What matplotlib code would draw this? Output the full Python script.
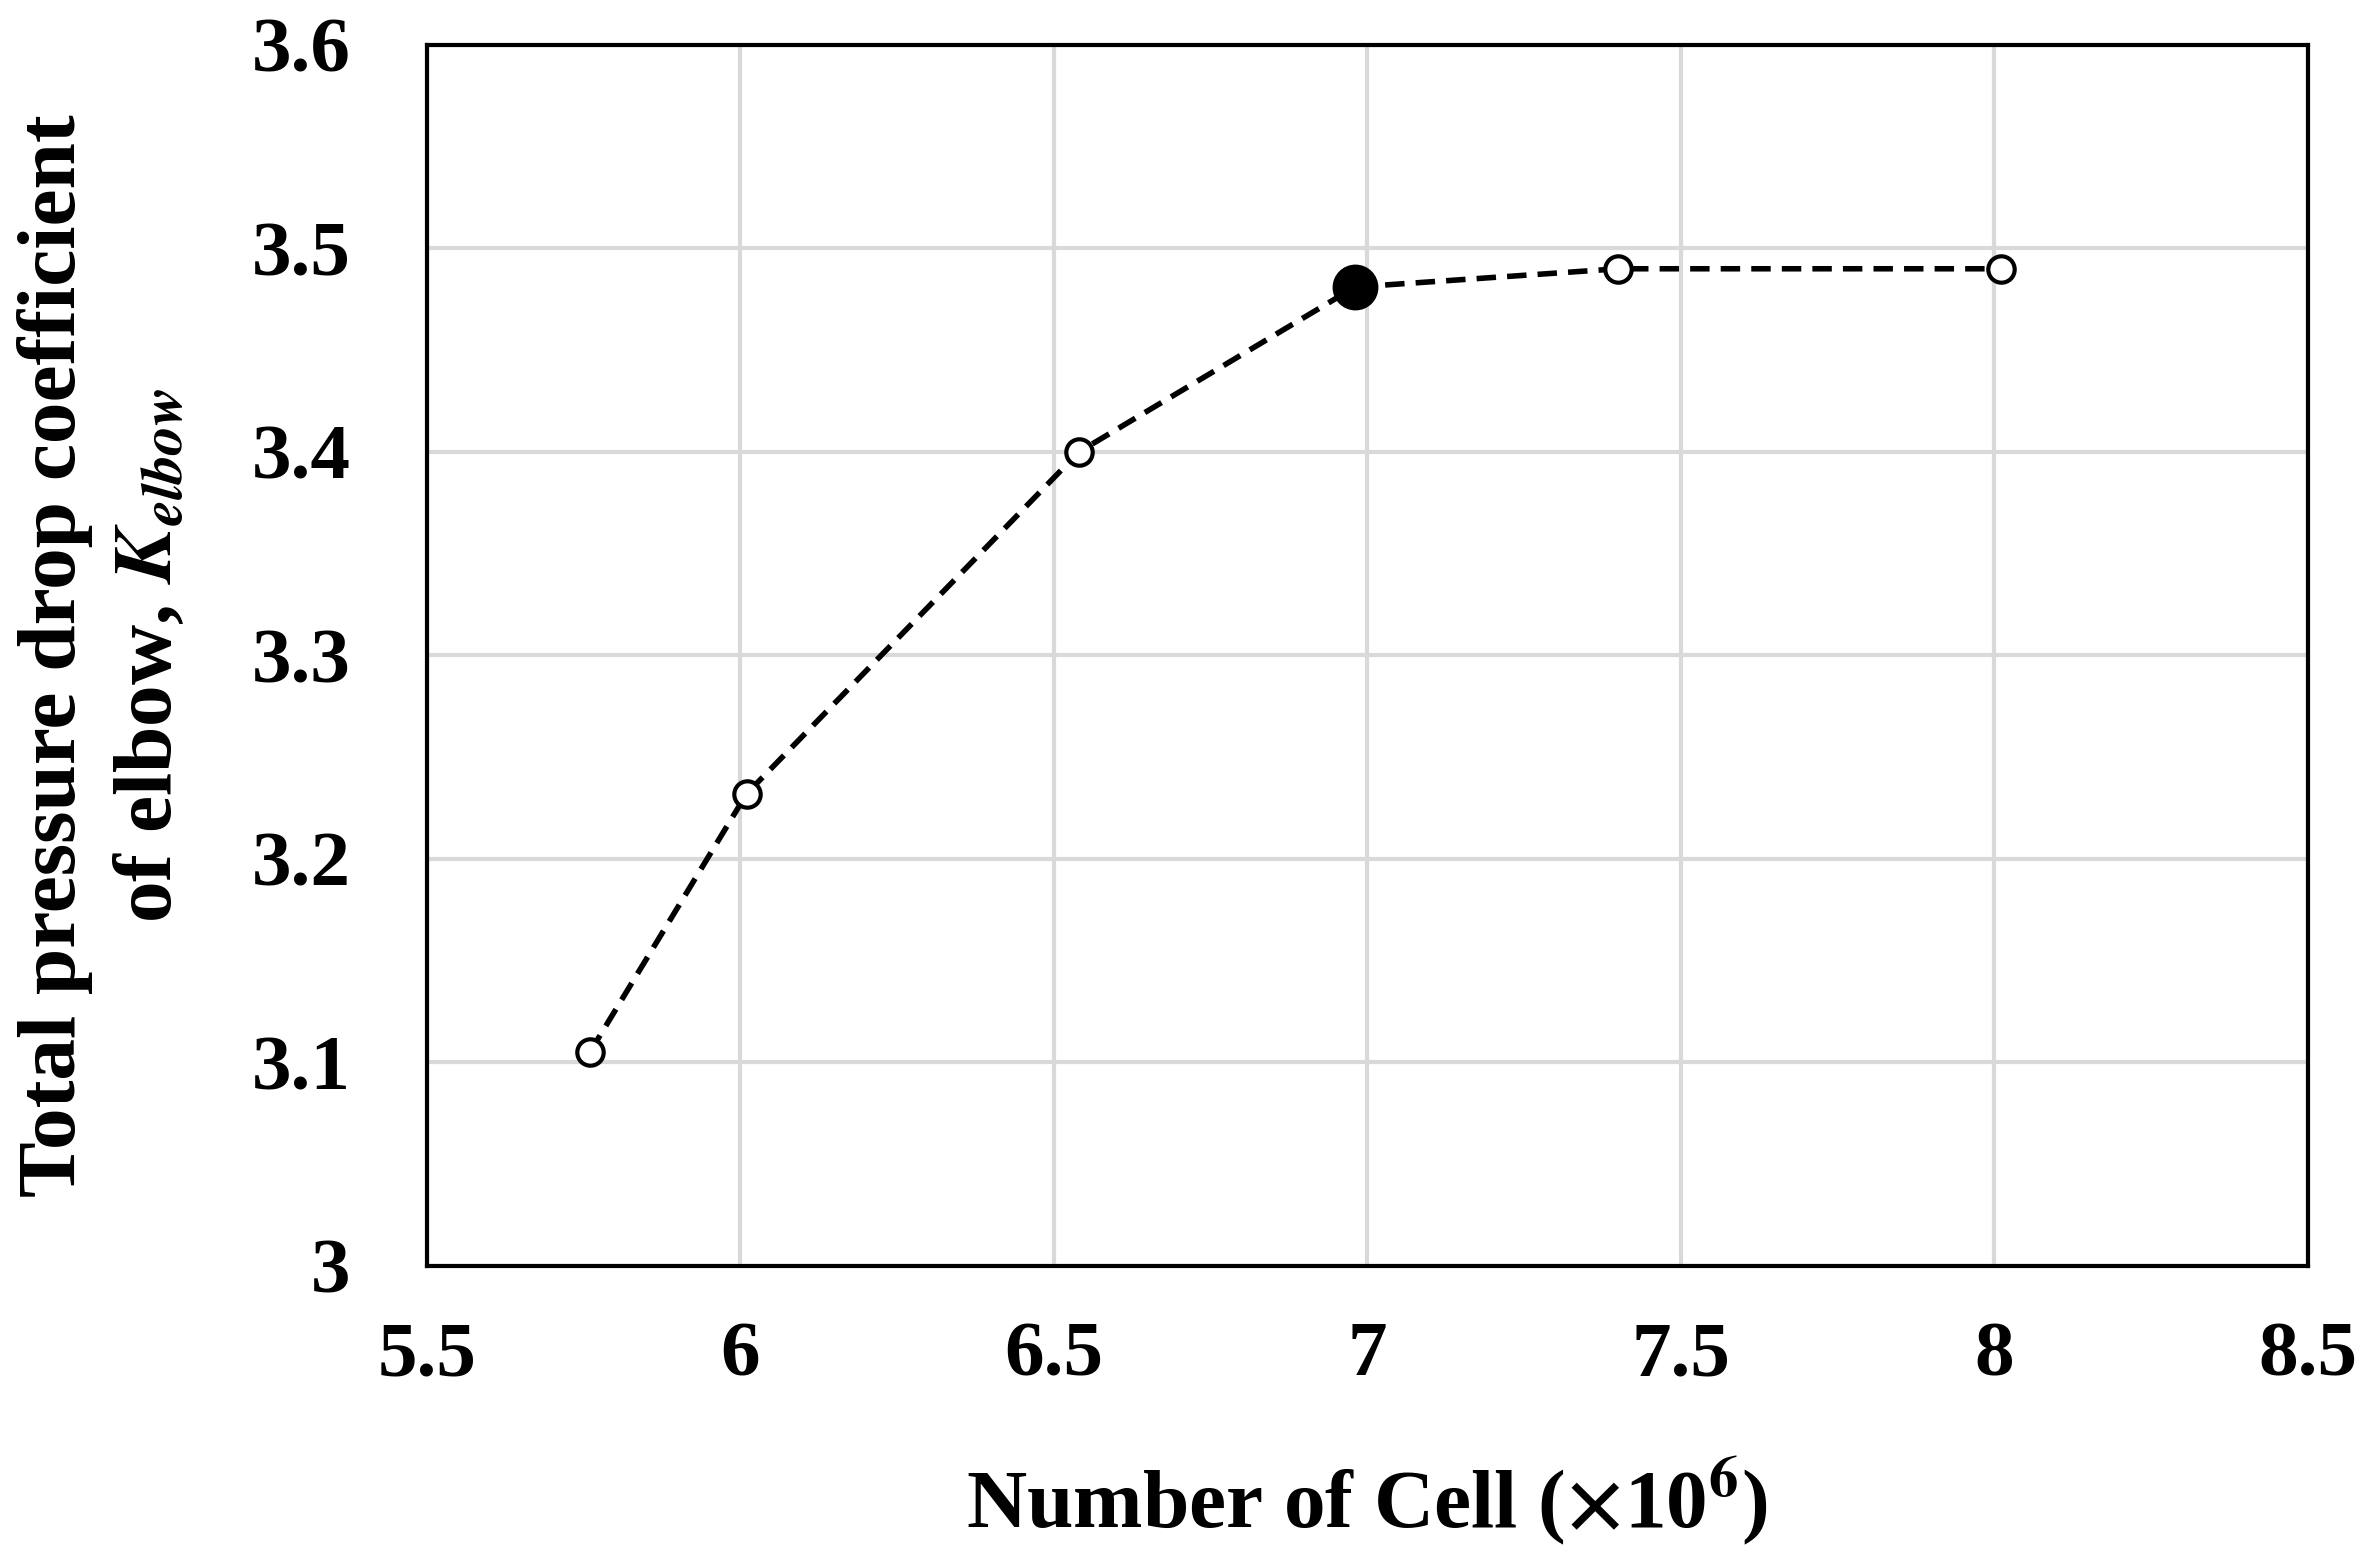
import matplotlib
matplotlib.use("Agg")
import matplotlib.pyplot as plt

cells = [5.76, 6.01, 6.54, 6.98, 7.40, 8.01]
k_elbow = [3.105, 3.232, 3.40, 3.481, 3.49, 3.49]
selected = 3  # index of the chosen mesh
x_ticks = [5.5, 6, 6.5, 7, 7.5, 8, 8.5]
y_ticks = [3, 3.1, 3.2, 3.3, 3.4, 3.5, 3.6]

plt.rcParams["font.family"] = ["Liberation Serif", "DejaVu Serif"]
plt.rcParams["font.weight"] = "bold"
plt.rcParams["mathtext.fontset"] = "stix"

fig = plt.figure(figsize=(23.72, 15.51), dpi=100)
ax = fig.add_axes([0.18, 0.184, 0.793, 0.787])

ax.plot(cells, k_elbow, "--", color="black", lw=4, dashes=(3.5, 2), zorder=2)
others = [i for i in range(len(cells)) if i != selected]
ax.plot([cells[i] for i in others], [k_elbow[i] for i in others], "o",
        ms=19, mfc="white", mec="black", mew=3, zorder=3)
ax.plot(cells[selected], k_elbow[selected], "o", ms=32, color="black", zorder=3)

ax.set_xlim(5.5, 8.5)
ax.set_ylim(3.0, 3.6)
ax.set_xticks(x_ticks)
ax.set_xticklabels([f"{v:g}" for v in x_ticks])
ax.set_yticks(y_ticks)
ax.set_yticklabels([f"{v:g}" for v in y_ticks])
ax.tick_params(labelsize=57, length=0)
ax.tick_params(axis="x", pad=40)
ax.tick_params(axis="y", pad=55)
for lab in ax.get_xticklabels() + ax.get_yticklabels():
    lab.set_fontweight("bold")
ax.grid(color="#d9d9d9", lw=3)
ax.set_axisbelow(True)
for s in ax.spines.values():
    s.set_linewidth(3)

ax.set_xlabel(r"Number of Cell ($\mathbf{\times}$10$^{6}$)", fontsize=60,
              fontweight="bold", labelpad=45)
ax.set_ylabel("Total pressure drop coefficient\nof elbow, $\\mathbfit{K}_{\\mathbfit{elbow}}$",
              fontsize=60, fontweight="bold", labelpad=45, linespacing=1.35)

fig.savefig("out.png", dpi=100)
